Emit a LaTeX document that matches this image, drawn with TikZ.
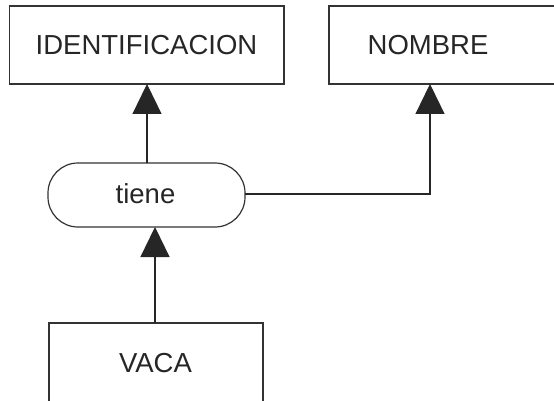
\documentclass[tikz,border=0pt]{standalone}
\usepackage{fontspec}
\setmainfont{Liberation Sans}
\usetikzlibrary{arrows.meta}
\begin{document}
\begin{tikzpicture}[x=1pt,y=-1pt,
  lineclr/.style={draw=black!80, line width=1.2pt},
  entity/.style={lineclr, fill=white},
  rel/.style={lineclr, fill=white, rounded corners=30pt},
  lbl/.style={font=\fontsize{27.5}{30}\selectfont, text=black!85, inner sep=0pt},
  conn/.style={draw=black!85, line width=1.2pt, -{Triangle[width=29pt,length=30pt]}}]
\useasboundingbox (0,0) rectangle (554,401);
\clip (0,0) rectangle (554,401);
\fill[white] (0,0) rectangle (554,401);
% boxes
\draw[entity] (9.5,6) rectangle (284,84);
\node[lbl] (ident) at (146.5,45) {IDENTIFICACION};
\coordinate (identS) at (147,84);
\draw[entity] (329,6) rectangle (600,84);
\node[lbl] (nombre) at (428,45) {NOMBRE};
\coordinate (nombreS) at (430,84);
\draw[rel] (48,163) rectangle (245,227);
\node[lbl] (tiene) at (145.5,194) {tiene};
\coordinate (tieneN) at (147,163);
\coordinate (tieneE) at (245,194);
\coordinate (tieneS) at (155,227);
\draw[entity] (49,323) rectangle (263,440);
\node[lbl] (vaca) at (155.5,363) {VACA};
\coordinate (vacaN) at (155,323);
% connectors
\draw[conn] (tieneN) -- (identS);
\draw[conn] (tieneE) -| (nombreS);
\draw[conn] (vacaN) -- (tieneS);
\end{tikzpicture}
\end{document}
